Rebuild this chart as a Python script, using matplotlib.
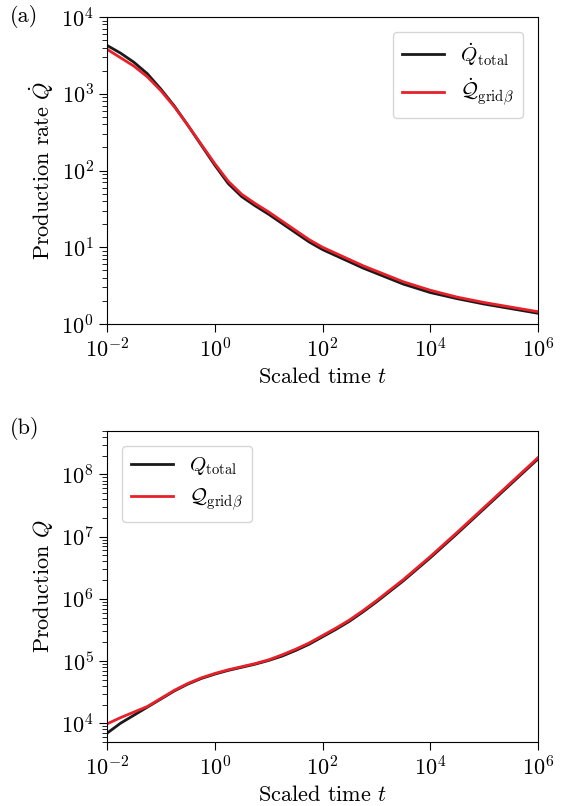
import matplotlib
matplotlib.use("Agg")
import matplotlib.pyplot as plt
import numpy as np

plt.rcParams['font.family'] = 'serif'
plt.rcParams['font.serif'] = ['cmr10']
plt.rcParams['mathtext.fontset'] = 'cm'
plt.rcParams['axes.formatter.use_mathtext'] = True
plt.rcParams['font.size'] = 16

# log10 of scaled time t
log_t = [-2, -1.75, -1.5, -1.25, -1, -0.75, -0.5, -0.25, 0, 0.25, 0.5, 0.75,
         1, 1.25, 1.5, 1.75, 2, 2.25, 2.5, 2.75, 3, 3.5, 4, 4.5, 5, 5.5, 6]

# (a) production rate, log10 values
log_qdot_total = [3.63, 3.53, 3.41, 3.26, 3.06, 2.84, 2.59, 2.33, 2.07, 1.83, 1.66, 1.54,
                  1.43, 1.31, 1.19, 1.07, 0.97, 0.89, 0.81, 0.73, 0.66,
                  0.52, 0.41, 0.33, 0.26, 0.20, 0.14]
log_qdot_grid = [3.58, 3.47, 3.36, 3.22, 3.04, 2.83, 2.59, 2.34, 2.09, 1.86, 1.69, 1.57,
                 1.46, 1.34, 1.22, 1.10, 1.00, 0.92, 0.84, 0.76, 0.69,
                 0.55, 0.44, 0.35, 0.28, 0.22, 0.16]

# (b) cumulative production, log10 values
log_q_total = [3.84, 4.00, 4.13, 4.26, 4.39, 4.52, 4.63, 4.72, 4.79, 4.85, 4.90, 4.95,
               5.01, 5.08, 5.17, 5.27, 5.39, 5.51, 5.64, 5.79, 5.95,
               6.29, 6.66, 7.05, 7.45, 7.85, 8.25]
log_q_grid = [3.99, 4.09, 4.18, 4.27, 4.40, 4.53, 4.64, 4.73, 4.80, 4.86, 4.91, 4.96,
              5.02, 5.10, 5.19, 5.29, 5.41, 5.53, 5.66, 5.81, 5.97,
              6.31, 6.68, 7.07, 7.47, 7.87, 8.27]

black = '#1a1a1a'
red = '#e8202a'

t = 10.0 ** np.array(log_t)

fig = plt.figure(figsize=(5.66, 8.06), dpi=100)
ax1 = fig.add_axes([107 / 566, 1 - 324 / 806, 431 / 566, 307 / 806])
ax2 = fig.add_axes([107 / 566, 1 - 742 / 806, 431 / 566, 311 / 806])

ax1.plot(t, 10.0 ** np.array(log_qdot_total), color=black, lw=2.0,
         label=r'$\dot{Q}_{\mathrm{total}}$')
ax1.plot(t, 10.0 ** np.array(log_qdot_grid), color=red, lw=2.0,
         label=r'$\dot{\mathcal{Q}}_{\mathrm{grid}\beta}$')
ax1.set_xscale('log')
ax1.set_yscale('log')
ax1.set_xlim(1e-2, 1e6)
ax1.set_ylim(1e0, 1e4)
ax1.set_xticks([1e-2, 1e0, 1e2, 1e4, 1e6])
ax1.set_xlabel(r'Scaled time $t$')
ax1.set_ylabel(r'Production rate $\dot{Q}$')
ax1.legend(loc='upper right', fontsize=15, handlelength=2.0, borderpad=0.45,
           labelspacing=0.45, borderaxespad=0.7)

ax2.plot(t, 10.0 ** np.array(log_q_total), color=black, lw=2.0,
         label=r'$Q_{\mathrm{total}}$')
ax2.plot(t, 10.0 ** np.array(log_q_grid), color=red, lw=2.0,
         label=r'$\mathcal{Q}_{\mathrm{grid}\beta}$')
ax2.set_xscale('log')
ax2.set_yscale('log')
ax2.set_xlim(1e-2, 1e6)
ax2.set_ylim(5e3, 5e8)
ax2.set_xticks([1e-2, 1e0, 1e2, 1e4, 1e6])
ax2.set_xlabel(r'Scaled time $t$')
ax2.set_ylabel(r'Production $Q$')
ax2.legend(loc='upper left', fontsize=15, handlelength=2.0, borderpad=0.45,
           labelspacing=0.45, borderaxespad=0.7)

for ax in (ax1, ax2):
    ax.xaxis.set_minor_locator(matplotlib.ticker.NullLocator())
    ax.tick_params(which='major', length=6)
    ax.tick_params(which='minor', length=3.5)

fig.text(10 / 566, 1 - 16 / 806, '(a)', fontsize=16, va='center')
fig.text(10 / 566, 1 - 428 / 806, '(b)', fontsize=16, va='center')

fig.savefig('out.png', dpi=100)
